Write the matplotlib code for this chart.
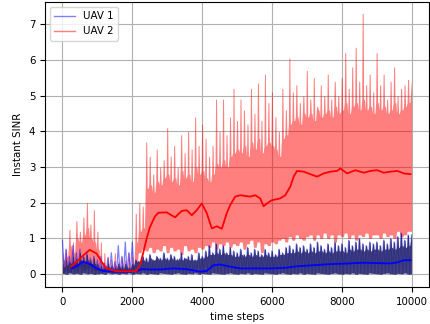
import numpy as np
import matplotlib
matplotlib.use("Agg")
import matplotlib.pyplot as plt
from matplotlib.lines import Line2D

# ---- data (per 100-step bin) ----
bin_start = np.arange(0, 10000, 100)

# UAV 2: spike tops, solid-band top, band bottom
uav2_peaks = [0.6, 0.7, 1.25, 0.9, 1.5, 1.2, 1.6, 2.0, 1.4, 1.8,
              1.2, 0.9, 0.6, 0.5, 0.4, 0.6, 0.35, 0.5, 0.4, 0.6,
              0.5, 1.7, 2.0, 1.9, 3.7, 3.3, 2.8, 3.5, 3.0, 3.2,
              4.1, 3.3, 3.6, 3.0, 3.9, 3.4, 4.0, 3.5, 4.4, 3.6,
              4.2, 3.8, 3.3, 3.6, 4.9, 4.0, 4.9, 3.9, 4.4, 5.2,
              4.3, 4.9, 4.6, 4.2, 5.2, 4.5, 5.35, 4.3, 5.6, 4.8,
              5.1, 4.4, 4.0, 5.2, 4.6, 6.05, 5.1, 5.3, 4.8, 5.0,
              5.7, 4.9, 5.5, 4.7, 5.3, 5.0, 5.6, 4.9, 5.4, 5.0,
              5.5, 6.2, 5.2, 5.8, 6.35, 5.4, 7.3, 5.3, 5.6, 5.1,
              6.2, 5.3, 5.6, 4.9, 5.4, 5.8, 5.0, 5.2, 5.3, 5.45]
uav2_core = [0.4, 0.5, 0.8, 0.6, 1.0, 0.9, 1.1, 1.3, 1.0, 0.9,
             0.7, 0.3, 0.25, 0.2, 0.2, 0.25, 0.2, 0.2, 0.25, 0.2,
             0.25, 0.9, 1.2, 1.3, 2.4, 2.5, 2.3, 2.6, 2.5, 2.7,
             2.8, 2.6, 2.7, 2.5, 2.9, 2.7, 2.8, 2.6, 3.0, 2.8,
             2.9, 2.7, 2.6, 2.8, 3.1, 3.0, 3.2, 3.0, 3.3, 3.4,
             3.5, 3.4, 3.6, 3.3, 3.7, 3.5, 3.8, 3.4, 3.6, 3.7,
             3.6, 3.5, 3.3, 3.8, 3.9, 4.2, 4.3, 4.4, 4.2, 4.5,
             4.4, 4.5, 4.3, 4.6, 4.4, 4.5, 4.6, 4.4, 4.7, 4.5,
             4.6, 4.8, 4.5, 4.7, 4.8, 4.6, 4.9, 4.6, 4.7, 4.5,
             4.8, 4.6, 4.7, 4.5, 4.6, 4.8, 4.5, 4.6, 4.7, 4.8]
uav2_troughs = [0.05, 0.1, 0.05, 0.15, 0.1, 0.2, 0.1, 0.15, 0.2, 0.1,
                0.1, 0.05, 0.1, 0.05, 0.1, 0.05, 0.1, 0.05, 0.1, 0.05,
                0.1, 0.3, 0.6, 0.7, 0.65, 0.75, 0.6, 0.7, 0.65, 0.8,
                0.6, 0.75, 0.65, 0.7, 0.55, 0.8, 0.65, 0.7, 0.6, 0.75,
                0.7, 0.8, 0.75, 0.9, 0.7, 0.85, 0.8, 0.9, 0.75, 0.85,
                0.8, 0.9, 0.7, 0.85, 0.95, 0.75, 0.9, 0.6, 0.85, 0.8,
                0.9, 0.85, 0.95, 1.0, 0.9, 1.05, 0.95, 1.1, 1.0, 0.95,
                1.05, 1.1, 0.95, 1.1, 1.0, 1.15, 1.0, 1.1, 0.9, 1.1,
                1.05, 1.15, 1.0, 1.1, 0.95, 1.1, 1.05, 1.15, 1.0, 1.1,
                1.1, 1.0, 1.15, 1.05, 1.1, 1.0, 1.2, 1.05, 1.1, 1.2]

# UAV 1: light spike tops, dark spike tops, dark solid-band top, bottom
uav1_peaks = [0.95, 0.7, 0.5, 0.8, 0.6, 0.7, 0.5, 0.6, 0.45, 0.5,
              0.4, 0.5, 0.3, 0.45, 0.6, 0.35, 0.8, 0.5, 0.9, 0.6,
              0.9, 0.4, 0.35, 0.5, 0.45, 0.55, 0.4, 0.5, 0.45, 0.6,
              0.45, 0.55, 0.5, 0.4, 0.6, 0.45, 0.5, 0.55, 0.4, 0.6,
              0.5, 0.65, 0.8, 0.6, 0.85, 0.7, 0.8, 0.6, 0.75, 0.65,
              0.6, 0.7, 0.55, 0.75, 0.6, 0.7, 0.65, 0.55, 0.7, 0.6,
              0.65, 0.55, 0.7, 0.6, 0.75, 0.8, 0.7, 0.85, 0.75, 0.8,
              0.7, 0.85, 0.75, 0.9, 0.8, 0.7, 0.85, 0.75, 0.9, 0.8,
              0.85, 0.75, 0.95, 0.8, 0.9, 1.0, 0.85, 0.8, 0.9, 0.85,
              0.9, 0.8, 0.95, 0.85, 1.0, 0.9, 1.05, 1.15, 0.95, 1.1]
uav1_band = [0.3, 0.4, 0.35, 0.5, 0.45, 0.6, 0.5, 0.55, 0.4, 0.45,
             0.3, 0.25, 0.2, 0.3, 0.25, 0.2, 0.3, 0.25, 0.3, 0.2,
             0.3, 0.4, 0.35, 0.5, 0.45, 0.55, 0.4, 0.5, 0.45, 0.6,
             0.45, 0.55, 0.5, 0.4, 0.6, 0.45, 0.5, 0.55, 0.4, 0.6,
             0.5, 0.65, 0.8, 0.6, 0.85, 0.7, 0.8, 0.6, 0.75, 0.65,
             0.6, 0.7, 0.55, 0.75, 0.6, 0.7, 0.65, 0.55, 0.7, 0.6,
             0.65, 0.55, 0.7, 0.6, 0.75, 0.8, 0.7, 0.85, 0.75, 0.8,
             0.7, 0.85, 0.75, 0.9, 0.8, 0.7, 0.85, 0.75, 0.9, 0.8,
             0.85, 0.75, 0.95, 0.8, 0.9, 1.0, 0.85, 0.8, 0.9, 0.85,
             0.9, 0.8, 0.95, 0.85, 1.0, 0.9, 1.05, 1.15, 0.95, 1.1]
uav1_core = [0.2, 0.25, 0.3, 0.35, 0.3, 0.4, 0.35, 0.4, 0.3, 0.3,
             0.2, 0.15, 0.15, 0.2, 0.15, 0.15, 0.2, 0.15, 0.2, 0.15,
             0.25, 0.35, 0.4, 0.4, 0.35, 0.45, 0.4, 0.45, 0.4, 0.45,
             0.4, 0.45, 0.4, 0.45, 0.4, 0.45, 0.4, 0.4, 0.4, 0.45,
             0.45, 0.5, 0.55, 0.55, 0.6, 0.55, 0.6, 0.55, 0.55, 0.5,
             0.5, 0.55, 0.5, 0.55, 0.5, 0.55, 0.5, 0.5, 0.55, 0.5,
             0.5, 0.5, 0.55, 0.55, 0.6, 0.6, 0.6, 0.65, 0.6, 0.65,
             0.6, 0.65, 0.6, 0.65, 0.65, 0.6, 0.65, 0.6, 0.65, 0.65,
             0.65, 0.6, 0.7, 0.65, 0.7, 0.7, 0.65, 0.7, 0.65, 0.7,
             0.7, 0.65, 0.7, 0.7, 0.75, 0.7, 0.75, 0.8, 0.75, 0.8]
uav1_troughs = [0.02, 0.0, 0.03, 0.01, 0.02, 0.0, 0.03, 0.01, 0.02, 0.0,
                0.01, 0.02, 0.0, 0.03, 0.01, 0.02, 0.0, 0.02, 0.01, 0.03,
                0.0, 0.02, 0.01, 0.03, 0.0, 0.02, 0.01, 0.0, 0.03, 0.02,
                0.01, 0.0, 0.02, 0.03, 0.01, 0.0, 0.02, 0.01, 0.03, 0.0,
                0.02, 0.01, 0.0, 0.03, 0.02, 0.01, 0.0, 0.02, 0.03, 0.01,
                0.0, 0.02, 0.01, 0.03, 0.0, 0.02, 0.01, 0.0, 0.03, 0.02,
                0.01, 0.0, 0.02, 0.03, 0.01, 0.0, 0.02, 0.01, 0.03, 0.0,
                0.02, 0.01, 0.0, 0.03, 0.02, 0.01, 0.0, 0.02, 0.03, 0.01,
                0.0, 0.02, 0.01, 0.03, 0.0, 0.02, 0.01, 0.0, 0.03, 0.02,
                0.01, 0.0, 0.02, 0.03, 0.01, 0.0, 0.02, 0.01, 0.03, 0.0]

uav2_smooth_x = [250, 450, 600, 780, 975, 1120, 1260, 1550, 1850, 2120, 2220, 2315,
                 2400, 2500, 2650, 2750, 2985, 3224, 3416, 3560, 3704, 3847, 3991,
                 4134, 4278, 4421, 4565, 4708, 4803, 4947, 5091, 5378, 5522, 5665,
                 5761, 5857, 6000, 6240, 6383, 6527, 6622, 6718, 6909, 7100, 7292,
                 7483, 7675, 7866, 7962, 8153, 8392, 8631, 8823, 9014, 9206, 9397,
                 9589, 9780, 9972]
uav2_smooth_y = [0.22, 0.38, 0.53, 0.68, 0.58, 0.35, 0.16, 0.08, 0.08, 0.09, 0.25, 0.6,
                 0.95, 1.3, 1.62, 1.72, 1.73, 1.59, 1.77, 1.79, 1.65, 1.79, 1.98,
                 1.71, 1.28, 1.34, 1.27, 1.71, 1.93, 2.17, 2.21, 2.17, 2.21, 2.12,
                 1.90, 1.98, 2.07, 2.12, 2.21, 2.45, 2.73, 2.89, 2.87, 2.80, 2.73,
                 2.82, 2.87, 2.89, 2.96, 2.82, 2.91, 2.84, 2.89, 2.91, 2.84, 2.87,
                 2.89, 2.82, 2.80]

uav1_smooth_x = [277, 449, 592, 784, 975, 1166, 1453, 1837, 2124, 2268, 2507, 2794,
                 3177, 3560, 3942, 4134, 4325, 4516, 4803, 5091, 5500, 6000, 6400,
                 6718, 7200, 7675, 8200, 8631, 9000, 9397, 9600, 9780, 9972]
uav1_smooth_y = [0.16, 0.25, 0.35, 0.28, 0.16, 0.09, 0.07, 0.07, 0.09, 0.14, 0.13, 0.13,
                 0.16, 0.14, 0.07, 0.09, 0.25, 0.27, 0.21, 0.16, 0.16, 0.16, 0.18,
                 0.22, 0.25, 0.28, 0.30, 0.32, 0.31, 0.30, 0.33, 0.39, 0.39]

x_ticks = [0, 2000, 4000, 6000, 8000, 10000]
y_ticks = [0, 1, 2, 3, 4, 5, 6, 7]


def spiky_band(peaks, core, bottoms, flat=14, base=28):
    """One polygon per series: solid band (bottoms..core) with a narrow
    column spike up to each read peak value at the start of every bin."""
    xs, top, bot = [], [], []
    for x0, p, c, b in zip(bin_start, peaks, core, bottoms):
        xs += [x0 - base, x0 - flat, x0 + flat, x0 + base, x0 + 50]
        top += [c, p, p, c, c]
        bot += [b, b, b, b, b]
    xs[0] = 0
    xs[1] = 0
    xs += [10000]
    top += [peaks[-1]]
    bot += [bottoms[-1]]
    return np.array(xs), np.array(bot), np.array(top)


def zigzag(tops, bottoms):
    n = len(bin_start)
    xs = np.empty(2 * n + 1)
    ys = np.empty(2 * n + 1)
    xs[0:-1:2] = bin_start
    xs[1:-1:2] = bin_start + 50
    ys[0:-1:2] = tops
    ys[1:-1:2] = bottoms
    xs[-1] = 10000
    ys[-1] = tops[-1]
    return xs, ys


plt.rcParams['font.size'] = 7.4
fig = plt.figure(figsize=(4.3, 3.24), dpi=100)
ax = fig.add_axes([45 / 430, 1 - 287 / 324, (429 - 45) / 430, (287 - 2) / 324])

navy = (40 / 255, 40 / 255, 110 / 255)

# UAV 2 raw (single translucent polygon so the grid shows through)
x2, b2, t2 = spiky_band(uav2_peaks, uav2_core, uav2_troughs)
ax.fill_between(x2, b2, t2, color='red', alpha=0.5, lw=0, zorder=2)

# UAV 1 raw: light spikes + dark dense band
x1, y1 = zigzag(uav1_peaks, uav1_troughs)
ax.plot(x1, y1, color='blue', alpha=0.5, lw=0.9, zorder=3)
x1b, b1, t1 = spiky_band(uav1_band, uav1_core, uav1_troughs)
ax.fill_between(x1b, b1, t1, color=navy, alpha=0.88, lw=0, zorder=3.5)

# smoothed curves
ax.plot(uav1_smooth_x, uav1_smooth_y, color='blue', lw=1.3, zorder=4)
ax.plot(uav2_smooth_x, uav2_smooth_y, color='red', lw=1.3, zorder=4)

legend_handles = [Line2D([], [], color='blue', alpha=0.5, lw=1.0),
                  Line2D([], [], color='red', alpha=0.5, lw=1.0)]
ax.legend(legend_handles, ['UAV 1', 'UAV 2'], loc='upper left')

ax.set_xlim(-500, 10500)
ax.set_ylim(-0.36, 7.62)
ax.set_xticks(x_ticks)
ax.set_yticks(y_ticks)
ax.grid(True)
ax.set_axisbelow(True)
ax.set_xlabel('time steps')
ax.set_ylabel('Instant SINR')

fig.savefig('out.png', dpi=100)
